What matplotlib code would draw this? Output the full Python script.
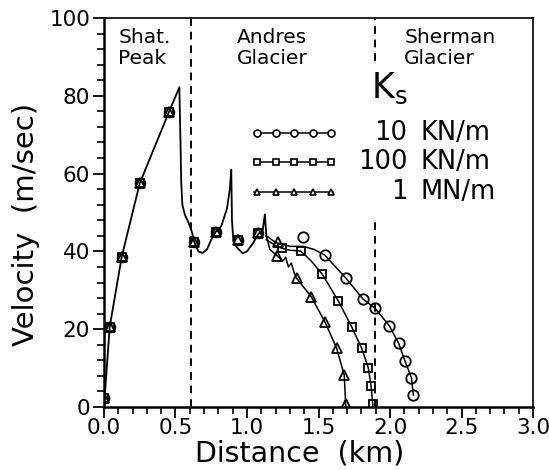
"""
Avalanche velocity along the path for three values of the spring
stiffness k_s. The run is identical down to about 1.1 km; after that the
three stiffness values give three different run-outs.
"""

import matplotlib
matplotlib.use("Agg")
import matplotlib.pyplot as plt
import matplotlib.ticker as mticker
import numpy as np

# shared part of the path (all three k_s overlay here)
common_x = [0.0, 0.04, 0.124, 0.25, 0.455, 0.527, 0.535, 0.54, 0.548, 0.565,
            0.59, 0.615, 0.63, 0.66, 0.69, 0.72, 0.75, 0.78, 0.82, 0.86,
            0.88, 0.89, 0.895, 0.905, 0.93, 0.97, 1.0, 1.04, 1.08, 1.11,
            1.125, 1.135]
common_v = [0.0, 20.6, 38.6, 57.5, 75.9, 82.2, 68.0, 58.0, 52.0, 49.5,
            47.5, 45.0, 42.5, 40.0, 39.6, 40.5, 43.0, 45.0, 46.5, 51.0,
            56.0, 61.0, 48.0, 42.5, 41.0, 39.5, 40.0, 42.0, 44.5, 45.5,
            49.5, 44.0]
common_mark_x = [0.0, 0.04, 0.124, 0.25, 0.455, 0.63, 0.78, 0.94, 1.08]
common_mark_v = [2.3, 20.6, 38.6, 57.5, 75.9, 42.5, 45.0, 43.0, 44.7]

# 10 KN/m
circ_x = [1.135, 1.2, 1.3, 1.394, 1.47, 1.545, 1.69, 1.81, 1.895, 1.995,
          2.06, 2.105, 2.15, 2.163]
circ_v = [44.0, 42.3, 41.3, 41.3, 40.5, 39.0, 33.2, 27.8, 25.4, 20.9,
          16.4, 11.8, 7.5, 3.1]
circ_mark_x = [1.394, 1.545, 1.69, 1.81, 1.895, 1.995, 2.06, 2.105, 2.15, 2.163]
circ_mark_v = [43.6, 39.0, 33.2, 27.8, 25.4, 20.9, 16.4, 11.8, 7.5, 3.1]

# 100 KN/m
sq_x = [1.135, 1.2, 1.243, 1.3, 1.375, 1.45, 1.527, 1.638, 1.732, 1.802,
        1.848, 1.867, 1.879, 1.881]
sq_v = [43.0, 41.5, 40.8, 40.3, 40.1, 37.5, 34.1, 27.3, 20.6, 15.1,
        10.1, 5.5, 0.9, 0.0]
sq_mark_x = [1.243, 1.375, 1.527, 1.638, 1.732, 1.802, 1.848, 1.867, 1.879]
sq_mark_v = [40.8, 40.1, 34.1, 27.3, 20.6, 15.1, 10.1, 5.5, 0.9]

# 1 MN/m
tri_x = [1.135, 1.16, 1.21, 1.25, 1.27, 1.29, 1.31, 1.33, 1.347, 1.448,
         1.545, 1.627, 1.68, 1.69, 1.691]
tri_v = [44.0, 40.5, 38.9, 37.5, 38.5, 36.0, 37.0, 34.5, 33.1, 28.4,
         21.9, 15.1, 8.2, 0.9, 0.0]
tri_mark_x = [1.22, 1.21, 1.347, 1.448, 1.545, 1.627, 1.68, 1.69]
tri_mark_v = [42.5, 38.9, 33.1, 28.4, 21.9, 15.1, 8.2, 0.9]

KS_VALUES = ["10", "100", "1"]
KS_UNITS = ["KN/m", "KN/m", "MN/m"]
BOUNDARIES = [0.61, 1.895]
REGIONS = ["Shat.\nPeak", "Andres\nGlacier", "Sherman\nGlacier"]
REGION_X = [0.10, 0.93, 2.10]

FONT = "DejaVu Sans"
plt.rcParams["font.family"] = FONT

MARK = dict(color="black", mfc="none", mec="black", mew=1.3, linestyle="none")


def main():
    fig = plt.figure(figsize=(5.49, 4.70), dpi=100)
    ax = fig.add_axes([0.1894, 0.134, 0.7815, 0.8277])

    # region boundaries; the right one is hidden behind the k_s key
    ax.plot([BOUNDARIES[0]] * 2, [0, 100], color="black", lw=1.4,
            dashes=(4, 3))
    ax.plot([BOUNDARIES[1]] * 2, [89, 100], color="black", lw=1.4,
            dashes=(4, 3))
    ax.plot([BOUNDARIES[1]] * 2, [0, 47.5], color="black", lw=1.4,
            dashes=(4, 3))

    ax.plot(common_x, common_v, color="black", lw=1.3)
    ax.plot(circ_x, circ_v, color="black", lw=1.1)
    ax.plot(sq_x, sq_v, color="black", lw=1.1)
    ax.plot(tri_x, tri_v, color="black", lw=1.1)

    for m, ms in (("o", 7), ("s", 6), ("^", 6.5)):
        ax.plot(common_mark_x, common_mark_v, marker=m, ms=ms, **MARK)
    ax.plot(circ_mark_x, circ_mark_v, marker="o", ms=7.5, **MARK)
    ax.plot(sq_mark_x, sq_mark_v, marker="s", ms=6, **MARK)
    ax.plot(tri_mark_x, tri_mark_v, marker="^", ms=6.5, **MARK)

    # region names
    for name, x in zip(REGIONS, REGION_X):
        ax.text(x, 97.5, name, fontsize=14.5, ha="left", va="top",
                linespacing=1.12)

    # hand-drawn k_s key
    ax.text(1.87, 82, "K$_\\mathregular{s}$", fontsize=25, ha="left",
            va="center")
    rows_v = [70.4, 63.0, 55.3]
    key_x = np.linspace(1.07, 1.59, 5)
    for (m, ms), v, num, unit in zip((("o", 5), ("s", 4.5), ("^", 5)),
                                     rows_v, KS_VALUES, KS_UNITS):
        ax.plot([1.05, 1.60], [v, v], color="black", lw=1.1)
        ax.plot(key_x, [v] * 5, marker=m, ms=ms, color="black", mfc="white",
                mec="black", mew=1.2, linestyle="none")
        ax.text(2.12, v, num, fontsize=18.5, ha="right", va="center")
        ax.text(2.215, v, unit, fontsize=18.5, ha="left", va="center")

    ax.set_xlim(0, 3.0)
    ax.set_ylim(0, 100)
    ax.xaxis.set_major_locator(mticker.MultipleLocator(0.5))
    ax.xaxis.set_minor_locator(mticker.MultipleLocator(0.1))
    ax.yaxis.set_major_locator(mticker.MultipleLocator(20))
    ax.yaxis.set_minor_locator(mticker.MultipleLocator(4))
    ax.xaxis.set_major_formatter(mticker.FormatStrFormatter("%.1f"))

    ax.tick_params(axis="both", which="major", direction="out", length=8,
                   width=1.3, labelsize=15.5, color="black")
    ax.tick_params(axis="both", which="minor", direction="out", length=5,
                   width=1.2, color="black")
    ax.tick_params(axis="x", which="major", pad=0)
    ax.tick_params(axis="y", which="major", pad=2)

    for spine in ("left", "bottom"):
        ax.spines[spine].set_linewidth(1.8)
    for spine in ("top", "right"):
        ax.spines[spine].set_linewidth(1.2)

    ax.set_xlabel("Distance  (km)", fontsize=20.5)
    ax.set_ylabel("Velocity  (m/sec)", fontsize=21)
    ax.xaxis.set_label_coords(0.457, -0.083)
    ax.yaxis.set_label_coords(-0.15, 0.47)

    fig.savefig("out.png", dpi=100, facecolor="white")
    plt.close(fig)


if __name__ == "__main__":
    main()
